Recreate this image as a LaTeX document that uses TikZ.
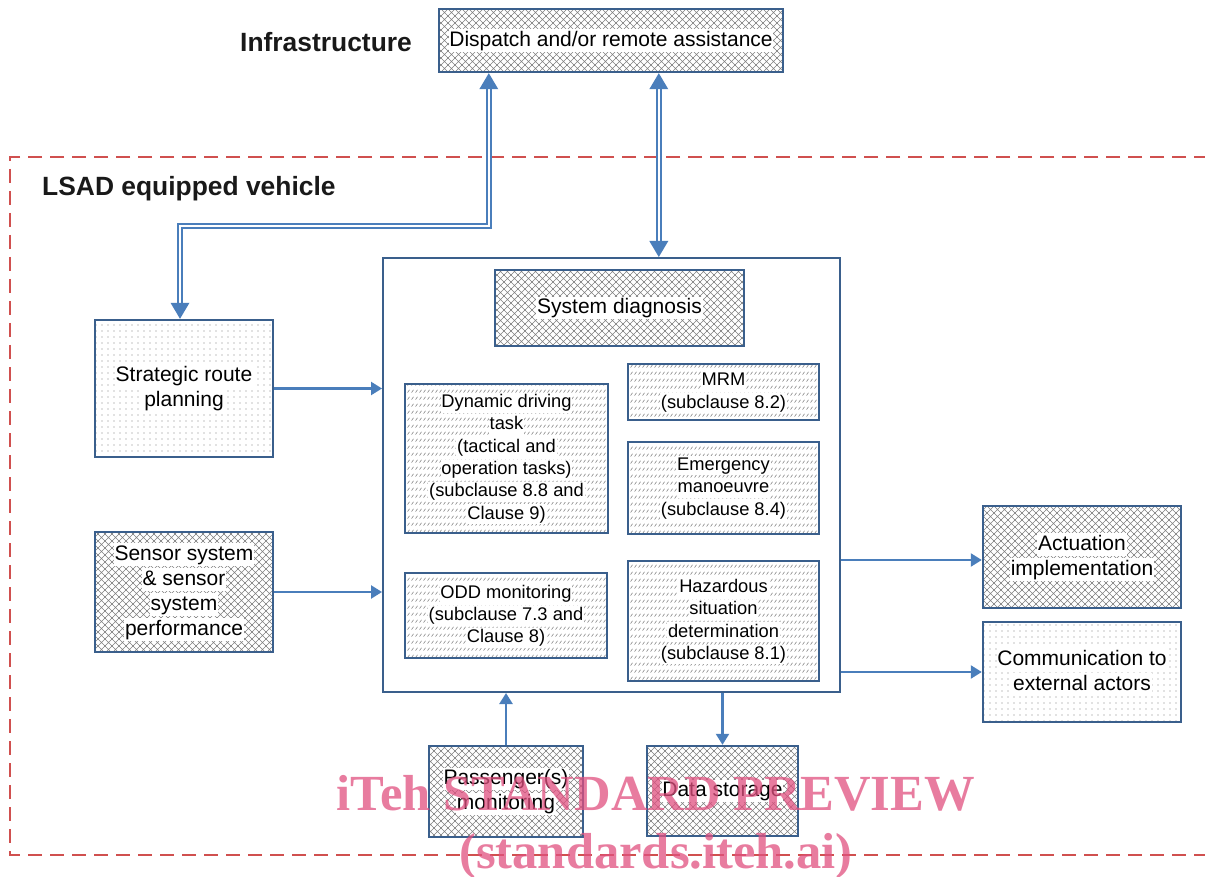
\documentclass[tikz,border=0pt]{standalone}
\usepackage{fontspec}
\setmainfont{Liberation Sans}
\newfontfamily\wmfont{Liberation Serif}
\usetikzlibrary{patterns,calc,arrows.meta}

\definecolor{bcol}{HTML}{3A5F8C}
\definecolor{acol}{HTML}{4A7EBB}
\definecolor{rcol}{HTML}{D0504F}
\definecolor{pcol}{HTML}{808080}
\definecolor{wmcol}{HTML}{E0507F}

\pgfdeclarepatternformonly{xh}{\pgfpoint{-1pt}{-1pt}}{\pgfpoint{8pt}{8pt}}{\pgfpoint{7pt}{7pt}}{%
  \pgfsetlinewidth{0.65pt}%
  \pgfpathmoveto{\pgfpoint{-0.5pt}{-0.5pt}}\pgfpathlineto{\pgfpoint{7.5pt}{7.5pt}}%
  \pgfpathmoveto{\pgfpoint{-0.5pt}{7.5pt}}\pgfpathlineto{\pgfpoint{7.5pt}{-0.5pt}}%
  \pgfusepath{stroke}}
\pgfdeclarepatternformonly{dt}{\pgfpoint{-1pt}{-1pt}}{\pgfpoint{1pt}{1pt}}{\pgfpoint{6pt}{6pt}}{%
  \pgfpathcircle{\pgfpointorigin}{0.65pt}\pgfusepath{fill}}
\pgfdeclarepatternformonly{sl}{\pgfpoint{0pt}{0pt}}{\pgfpoint{3.6pt}{7.3pt}}{\pgfpoint{3.6pt}{7.3pt}}{%
  \pgfsetlinewidth{0.6pt}%
  \pgfpathmoveto{\pgfpoint{0.6pt}{1.6pt}}\pgfpathlineto{\pgfpoint{2.8pt}{4.6pt}}%
  \pgfusepath{stroke}}

\newcommand\wb[1]{{\setlength\fboxsep{0.8pt}\colorbox{white}{\rule[-0.22em]{0pt}{0.98em}#1}}}

\tikzset{
  boxs/.style={draw=bcol, line width=2.4pt, inner sep=0pt, align=center,
    font=\fontsize{21}{25}\selectfont},
  ibox/.style={draw=bcol, line width=2.4pt, inner sep=0pt, align=center,
    pattern=sl, pattern color=pcol, font=\fontsize{18.3}{22.3}\selectfont},
  xhatch/.style={pattern=xh, pattern color=pcol},
  dotted fill/.style={pattern=dt, pattern color=pcol},
  arr/.style={draw=acol, line width=2.3pt, -{Triangle[width=13pt,length=11pt]}},
  dbl/.style={draw=acol, line width=1.7pt, double=white, double distance=2.2pt,
    shorten <=15pt, shorten >=15pt},
  hdr/.style={font=\fontsize{26.4}{30}\selectfont\bfseries, text=black!90, inner sep=0pt, anchor=west},
  wm/.style={font=\wmfont\fontsize{50.6}{55}\selectfont\bfseries, text=wmcol, text opacity=0.75, inner sep=0pt, anchor=base},
}

\begin{document}
\begin{tikzpicture}[x=1pt,y=-1pt]
\useasboundingbox (0,0) rectangle (1205,877);

% vehicle boundary
\draw[rcol, line width=2pt, dash pattern=on 14pt off 8pt] (1230,157) -- (10,157) -- (10,855) -- (1230,855);

% headers
\node[hdr] (infra) at (240,42) {Infrastructure};
\node[hdr] (lsad) at (42,189) {LSAD equipped vehicle};

% boxes
\node[boxs, xhatch, minimum width=344pt, minimum height=63pt] (disp) at (611,40.5) {\wb{Dispatch and/or remote assistance}};
\node[draw=bcol, line width=2pt, minimum width=457pt, minimum height=434pt] (big) at (611.5,475) {};
\node[boxs, xhatch, minimum width=249pt, minimum height=76pt] (sysd) at (619.5,308) {\wb{System diagnosis}};

\node[ibox, minimum width=203pt, minimum height=149pt] (ddt) at (506.5,458.5)
  {\wb{Dynamic driving}\\\wb{task}\\\wb{(tactical and}\\\wb{operation tasks)}\\\wb{(subclause 8.8 and}\\\wb{Clause 9)}};
\node[ibox, minimum width=191pt, minimum height=56pt] (mrm) at (723.5,392)
  {\wb{MRM}\\\wb{(subclause 8.2)}};
\node[ibox, minimum width=191pt, minimum height=92pt] (emg) at (723.5,488)
  {\wb{Emergency}\\\wb{manoeuvre}\\\wb{(subclause 8.4)}};
\node[ibox, minimum width=202pt, minimum height=85pt] (odd) at (506,615.5)
  {\wb{ODD monitoring}\\\wb{(subclause 7.3 and}\\\wb{Clause 8)}};
\node[ibox, minimum width=191pt, minimum height=120pt] (haz) at (723.5,621)
  {\wb{Hazardous}\\\wb{situation}\\\wb{determination}\\\wb{(subclause 8.1)}};

\node[boxs, dotted fill, minimum width=178pt, minimum height=137pt] (srp) at (184,388.5)
  {\wb{Strategic route}\\\wb{planning}};
\node[boxs, xhatch, minimum width=178pt, minimum height=120pt] (sen) at (184,592)
  {\wb{Sensor system}\\\wb{\& sensor}\\\wb{system}\\\wb{performance}};
\node[boxs, xhatch, minimum width=198pt, minimum height=102pt] (act) at (1082,557)
  {\wb{Actuation}\\\wb{implementation}};
\node[boxs, dotted fill, minimum width=198pt, minimum height=100pt] (com) at (1082,672)
  {\wb{Communication to}\\\wb{external actors}};
\node[boxs, xhatch, minimum width=154pt, minimum height=91pt] (pas) at (506,791.5)
  {\wb{Passenger(s)}\\\wb{monitoring}};
\node[boxs, xhatch, minimum width=151pt, minimum height=90pt] (dat) at (722.5,791)
  {\wb{Data storage}};

% single arrows
\draw[arr] (srp.east) -- (srp.east -| big.west);
\draw[arr] (sen.east) -- (sen.east -| big.west);
\draw[arr] ($(act.west -| big.east)+(0,3)$) -- ($(act.west)+(0,3)$);
\draw[arr] (com.west -| big.east) -- (com.west);
\draw[arr] (pas.north) -- (pas.north |- big.south);
\draw[arr] (dat.north |- big.south) -- (dat.north);

% double arrows
\coordinate (d1) at ($(disp.south west)+(51,0)$);
\coordinate (s1) at ($(srp.north)+(-4,0)$);
\coordinate (c1) at ($(s1)+(0,-93)$);
\draw[dbl] (d1) -- (d1 |- c1) -- (c1) -- (s1);
\fill[acol] (d1) -- ++(-9.5,16) -- ++(19,0) -- cycle;
\fill[acol] (s1) -- ++(-9.5,-16) -- ++(19,0) -- cycle;

\coordinate (d2) at ($(disp.south west)+(221,0)$);
\coordinate (b2) at (d2 |- big.north);
\draw[dbl] (d2) -- (b2);
\fill[acol] (d2) -- ++(-9.5,16) -- ++(19,0) -- cycle;
\fill[acol] (b2) -- ++(-9.5,-16) -- ++(19,0) -- cycle;

% watermark
\node[wm] (wm1) at (656,810) {iTeh STANDARD PREVIEW};
\node[wm] (wm2) at (656,868) {(standards.iteh.ai)};
\end{tikzpicture}
\end{document}
